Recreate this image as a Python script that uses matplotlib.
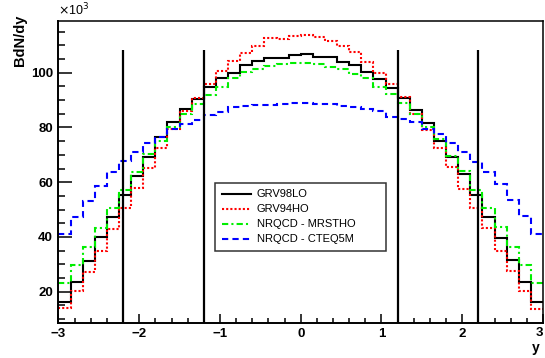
import numpy as np
import matplotlib
matplotlib.use("Agg")
import matplotlib.pyplot as plt
from matplotlib.ticker import MultipleLocator, FuncFormatter

# bins: 40 bins of width 0.15 over y in [-3, 3]
y_lo, y_hi, n_bins = -3.0, 3.0, 40

# dN/dy values in units of 10^3
grv98lo = [16.4, 23.6, 31.4, 40.0, 47.4, 55.4, 62.3, 69.1, 76.4, 82.0,
           86.7, 90.5, 94.8, 98.2, 99.9, 102.8, 104.4, 105.4, 105.5, 106.3,
           106.9, 105.8, 105.8, 104.0, 102.8, 100.4, 97.6, 94.5, 90.9, 86.5,
           81.8, 75.2, 69.3, 62.9, 55.3, 47.3, 39.8, 31.5, 23.5, 16.3]
grv94ho = [13.9, 20.1, 27.3, 34.7, 42.8, 50.7, 58.0, 65.3, 72.6, 79.5,
           85.9, 90.7, 95.8, 100.6, 104.3, 107.2, 109.6, 112.8, 112.3, 113.5,
           113.9, 113.0, 111.7, 109.9, 107.7, 104.0, 99.9, 96.0, 91.0, 85.0,
           79.1, 72.6, 65.7, 57.7, 50.5, 43.1, 35.0, 27.4, 20.3, 13.8]
nrqcd_mrstho = [23.1, 29.6, 36.5, 43.4, 50.4, 57.2, 63.9, 70.2, 75.1, 80.0,
                85.0, 88.5, 91.7, 94.9, 97.9, 100.4, 101.4, 102.3, 103.0, 103.4,
                103.4, 103.0, 102.0, 101.2, 99.5, 97.9, 94.9, 92.4, 88.9, 84.9,
                80.3, 75.7, 69.7, 64.0, 57.2, 50.4, 43.7, 36.5, 29.6, 23.0]
nrqcd_cteq5m = [40.9, 47.4, 53.3, 58.6, 63.6, 67.8, 71.1, 74.3, 76.6, 79.5,
                81.2, 82.7, 84.4, 85.6, 87.3, 87.8, 88.1, 88.1, 88.6, 89.1,
                88.8, 88.6, 88.6, 87.9, 87.5, 86.7, 86.0, 83.9, 83.2, 82.1,
                79.3, 77.7, 74.5, 71.2, 67.4, 63.9, 59.5, 53.6, 47.7, 40.9]
labels = ["GRV98LO", "GRV94HO", "NRQCD - MRSTHO", "NRQCD - CTEQ5M"]

# acceptance cut lines
cut_positions = [-2.2, -1.2, 1.2, 2.2]
cut_top = 108.3

edges = np.linspace(y_lo, y_hi, n_bins + 1)

plt.rcParams["font.family"] = ["Liberation Sans", "DejaVu Sans"]

fig = plt.figure(figsize=(5.45, 3.58), dpi=100)
ax = fig.add_axes([0.1073, 0.0986, 0.889, 0.8436])

styles = [
    dict(color="black", lw=1.5, linestyle="-"),
    dict(color="#ff0000", lw=1.5, linestyle=(0, (1, 1))),
    dict(color="#00ee00", lw=1.5, linestyle=(0, (3, 1.5, 1, 1.5))),
    dict(color="#0000ff", lw=1.5, linestyle=(0, (3, 2))),
]
handles = []
for vals, lab, st in zip([grv98lo, grv94ho, nrqcd_mrstho, nrqcd_cteq5m], labels, styles):
    ax.stairs(vals, edges, baseline=None, **st)
    h, = ax.plot([], [], label=lab, **st)
    handles.append(h)

ylo = 8.68
ax.vlines(cut_positions, ylo, cut_top, colors="black", lw=1.6)

ax.set_xlim(y_lo, y_hi)
ax.set_ylim(ylo, 119.0)

ax.xaxis.set_major_locator(MultipleLocator(1))
ax.xaxis.set_minor_locator(MultipleLocator(0.2))
ax.yaxis.set_major_locator(MultipleLocator(20))
ax.yaxis.set_minor_locator(MultipleLocator(5))
# the label at the right edge is drawn separately so it stays inside the canvas
ax.xaxis.set_major_formatter(FuncFormatter(
    lambda v, p: "" if abs(v - y_hi) < 1e-6 else f"{v:g}".replace("-", "\u2212")))
ax.tick_params(which="both", direction="in", top=False, right=False, width=1.1)
ax.tick_params(which="major", axis="x", length=6.5)
ax.tick_params(which="minor", axis="x", length=3.5)
ax.tick_params(which="major", axis="y", length=10)
ax.tick_params(which="minor", axis="y", length=5)
ax.tick_params(axis="both", labelsize=9.5, pad=4)
for t in ax.get_xticklabels() + ax.get_yticklabels():
    t.set_fontweight("bold")
for s in ax.spines.values():
    s.set_linewidth(1.1)
ax.spines["left"].set_linewidth(1.4)
ax.spines["bottom"].set_linewidth(1.4)

ax.annotate(f"{y_hi:g}", xy=(y_hi, 0), xycoords=("data", "axes fraction"),
            xytext=(-2.5, -3), textcoords="offset points", ha="center", va="top",
            fontsize=9.5, fontweight="bold")

# axis titles placed ROOT-style
ax.set_ylabel("BdN/dy", fontsize=10.5, fontweight="bold", loc="top", labelpad=3)
ax.yaxis.label.set_y(1.02)
fig.text(540 / 545, 1 - 352 / 358, "y", fontsize=10, fontweight="bold",
         ha="right", va="baseline")
fig.text(0.107, 1 - 15 / 358, r"$\times$10$^{3}$", fontsize=9, ha="left", va="baseline")

leg = ax.legend(handles=handles, loc="lower left",
                bbox_to_anchor=(0.323, 0.237, 0.353, 0.229), mode="expand",
                fontsize=8, frameon=True, fancybox=False, edgecolor="black",
                handlelength=2.6, handletextpad=0.55, labelspacing=0.45,
                borderpad=0.6, borderaxespad=0)
leg.get_frame().set_linewidth(1.1)

fig.savefig("out.png", dpi=100)
